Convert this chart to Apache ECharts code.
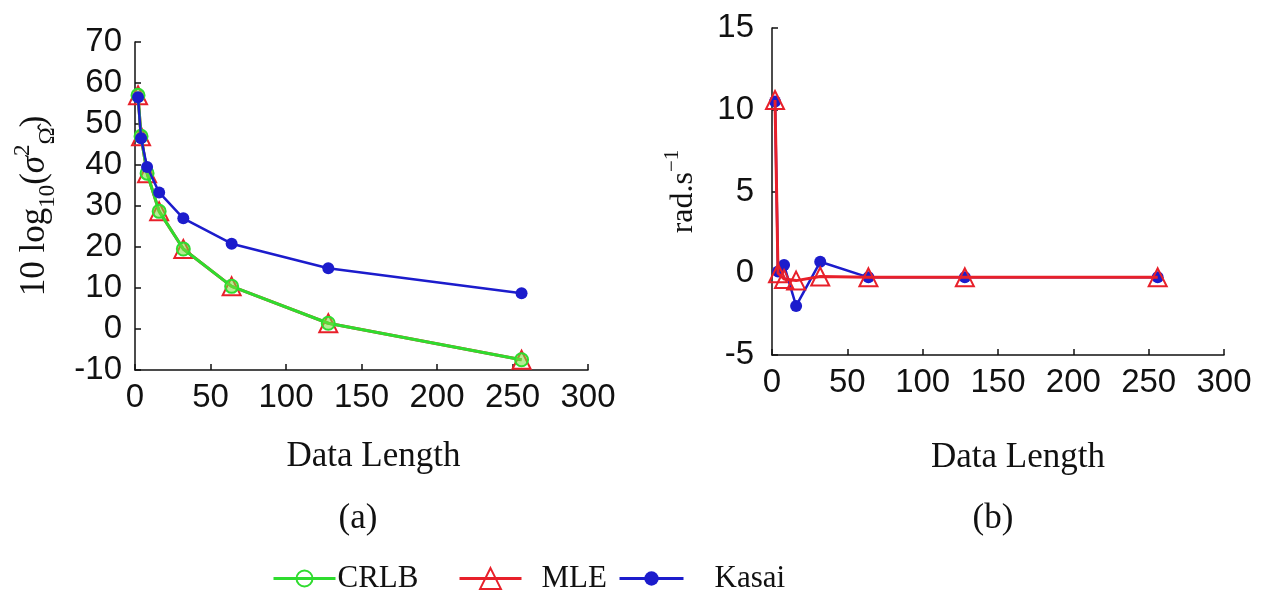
<!DOCTYPE html>
<html>
<head>
<meta charset="utf-8">
<script src="https://cdn.jsdelivr.net/npm/echarts@6/dist/echarts.min.js"></script>
<style>
  html, body { margin: 0; padding: 0; background: #fff; }
  #chart { width: 1272px; height: 601px; }
</style>
</head>
<body>
<div id="chart"></div>
<script>
var dataLength = [2, 4, 8, 16, 32, 64, 128, 256];

// panel (a): 10 log10 variance
var crlbA = [57, 47, 38, 28.7, 19.5, 10.4, 1.4, -7.5];
var mleA = [57, 47, 38, 28.7, 19.5, 10.4, 1.4, -7.5];
var kasaiA = [56.5, 46.5, 39.5, 33.3, 27, 20.8, 14.8, 8.7];

// panel (b): bias, rad.s^-1
var mleB = [10.6, 0, -0.35, -0.45, -0.2, -0.25, -0.25, -0.25];
var kasaiB = [10.5, 0.1, 0.5, -2.0, 0.7, -0.25, -0.25, -0.25];

var xTicks = [0, 50, 100, 150, 200, 250, 300];

var GREEN = '#2fdc2f';
var RED = '#e8202a';
var BLUE = '#1c1ccc';
var SANS = 'Liberation Sans';
var SERIF = 'Liberation Serif';

function pairs(xs, ys) {
  return xs.map(function(x, i) { return [x, ys[i]]; });
}

function xAxis(idx, gap, shift) {
  return {
    type: 'value', gridIndex: idx, min: xTicks[0], max: xTicks[xTicks.length - 1], interval: 50,
    name: 'Data Length', nameLocation: 'middle', nameGap: gap,
    nameTextStyle: { fontFamily: SERIF, fontSize: 35, color: '#111', padding: [0, 0, 0, shift] },
    axisLine: { onZero: false, lineStyle: { color: '#111', width: 1.5 } },
    axisTick: { inside: true, length: 6, lineStyle: { color: '#111', width: 1.5 } },
    axisLabel: { fontFamily: SANS, fontSize: 33, color: '#111', margin: 11 },
    splitLine: { show: false }
  };
}

function legendItem(name, left, w, h, pad) {
  return {
    data: [name], left: left, top: 563, padding: 0, itemWidth: w, itemHeight: h, itemGap: 0,
    lineStyle: { width: 3 },
    textStyle: { fontFamily: SERIF, fontSize: 31, color: '#111', padding: [0, 0, 0, pad] }
  };
}

var option = {
  animation: false,
  backgroundColor: '#fff',
  grid: [
    { left: 135, top: 42, width: 453, height: 328 },
    { left: 772, top: 28, width: 452, height: 327 }
  ],
  xAxis: [xAxis(0, 69, 24), xAxis(1, 85, 40)],
  yAxis: [
    {
      type: 'value', gridIndex: 0, min: -10, max: 70, interval: 10,
      name: '{n|10 log}{s|10}{n|(}{i|σ}{p|2}{s|Ω̂}{n|)}',
      nameLocation: 'middle', nameGap: 76, nameRotate: 90,
      nameTextStyle: {
        rich: {
          n: { fontFamily: SERIF, fontSize: 35, color: '#111', lineHeight: 48 },
          i: { fontFamily: SERIF, fontSize: 35, fontStyle: 'italic', color: '#111', lineHeight: 48 },
          s: { fontFamily: SERIF, fontSize: 23, color: '#111', lineHeight: 24, verticalAlign: 'bottom' },
          p: { fontFamily: SERIF, fontSize: 23, color: '#111', lineHeight: 24, verticalAlign: 'top' }
        }
      },
      axisLine: { show: true, lineStyle: { color: '#111', width: 1.5 } },
      axisTick: { show: true, inside: true, length: 6, lineStyle: { color: '#111', width: 1.5 } },
      axisLabel: { fontFamily: SANS, fontSize: 33, color: '#111', margin: 13 },
      splitLine: { show: false }
    },
    {
      type: 'value', gridIndex: 1, min: -5, max: 15, interval: 5,
      name: '{n|rad.s}{p|−1}',
      nameLocation: 'middle', nameGap: 66, nameRotate: 90,
      nameTextStyle: {
        rich: {
          n: { fontFamily: SERIF, fontSize: 32, color: '#111', lineHeight: 44 },
          p: { fontFamily: SERIF, fontSize: 21, color: '#111', lineHeight: 22, verticalAlign: 'top' }
        }
      },
      axisLine: { show: true, lineStyle: { color: '#111', width: 1.5 } },
      axisTick: { show: true, inside: true, length: 6, lineStyle: { color: '#111', width: 1.5 } },
      axisLabel: { fontFamily: SANS, fontSize: 33, color: '#111', margin: 18 },
      splitLine: { show: false }
    }
  ],
  legend: [
    Object.assign(legendItem('CRLB', 272, 62, 20, -3), { itemStyle: { color: 'rgba(0,0,0,0)' } }),
    legendItem('MLE', 458, 62, 26, 15),
    legendItem('Kasai', 618, 64, 18, 26)
  ],
  graphic: [
    { type: 'text', x: 358, y: 519, style: { text: '(a)', fontFamily: SERIF, fontSize: 35, fill: '#111', align: 'center', verticalAlign: 'middle' } },
    { type: 'text', x: 993, y: 519, style: { text: '(b)', fontFamily: SERIF, fontSize: 35, fill: '#111', align: 'center', verticalAlign: 'middle' } }
  ],
  series: [
    {
      name: 'MLE', type: 'line', xAxisIndex: 0, yAxisIndex: 0, z: 2,
      data: pairs(dataLength, mleA),
      symbol: 'triangle', symbolSize: 18, showAllSymbol: true,
      lineStyle: { color: RED, width: 3 },
      itemStyle: { color: 'rgba(0,0,0,0)', borderColor: RED, borderWidth: 2 }
    },
    {
      name: 'CRLB', type: 'line', xAxisIndex: 0, yAxisIndex: 0, z: 3,
      data: pairs(dataLength, crlbA),
      symbol: 'circle', symbolSize: 13,
      lineStyle: { color: GREEN, width: 3 },
      itemStyle: { color: 'rgba(120,220,60,0.55)', borderColor: GREEN, borderWidth: 2 }
    },
    {
      name: 'Kasai', type: 'line', xAxisIndex: 0, yAxisIndex: 0, z: 4,
      data: pairs(dataLength, kasaiA),
      symbol: 'circle', symbolSize: 12,
      lineStyle: { color: BLUE, width: 2.5 },
      itemStyle: { color: BLUE, borderColor: BLUE, borderWidth: 0 }
    },
    {
      name: 'Kasai', type: 'line', xAxisIndex: 1, yAxisIndex: 1, z: 2,
      data: pairs(dataLength, kasaiB),
      symbol: 'circle', symbolSize: 12,
      lineStyle: { color: BLUE, width: 2.5 },
      itemStyle: { color: BLUE, borderColor: BLUE, borderWidth: 0 }
    },
    {
      name: 'MLE', type: 'line', xAxisIndex: 1, yAxisIndex: 1, z: 3,
      data: pairs(dataLength, mleB),
      symbol: 'triangle', symbolSize: 18,
      lineStyle: { color: RED, width: 3 },
      itemStyle: { color: 'rgba(0,0,0,0)', borderColor: RED, borderWidth: 2 }
    }
  ]
};

var chart = echarts.init(document.getElementById('chart'));
chart.setOption(option);
</script>
</body>
</html>
